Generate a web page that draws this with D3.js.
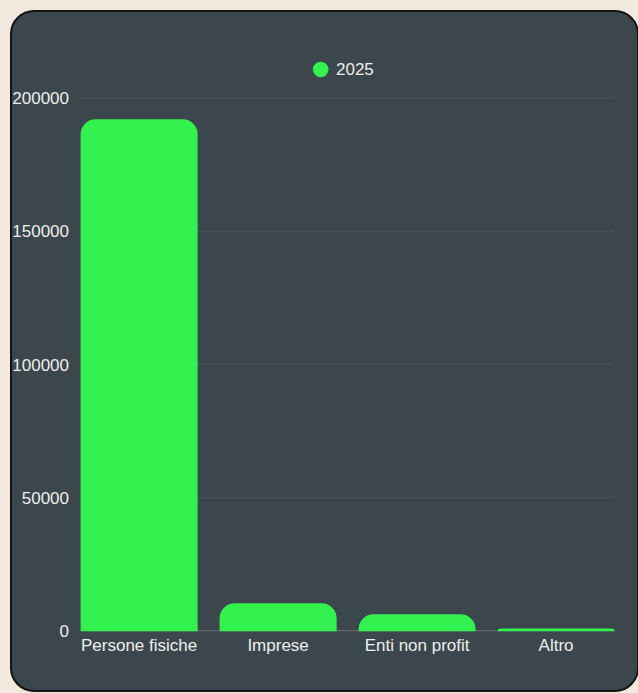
<!DOCTYPE html>
<html><head><meta charset="utf-8">
<script src="https://cdn.jsdelivr.net/npm/d3@7"></script>
<style>
html,body{margin:0;padding:0;background:#f3e9de;}
svg{display:block;}
</style></head>
<body>
<script>
const categories = ["Persone fisiche", "Imprese", "Enti non profit", "Altro"];
const values2025 = [191900, 10300, 6150, 800];
const yTicks = [0, 50000, 100000, 150000, 200000];
const seriesName = "2025";

const W = 638, H = 693;
const svg = d3.select("body").append("svg").attr("width", W).attr("height", H);

svg.append("rect").attr("x", 11).attr("y", 11).attr("width", 627).attr("height", 680)
  .attr("rx", 23).attr("fill", "#3b474c").attr("stroke", "#141414").attr("stroke-width", 2);

const plot = {left: 80.6, right: 614.6, top: 97.7, bottom: 630.7};
const x = d3.scaleBand().domain(categories).range([plot.left, plot.right]).paddingInner(0.158).paddingOuter(0);
const y = d3.scaleLinear().domain([0, 200000]).range([plot.bottom, plot.top]);

const font = "'Liberation Sans', Arial, Helvetica, sans-serif";
const green = "#33f24f";
const textCol = "#eeeeee";

// gridlines
svg.append("g").selectAll("line").data(yTicks.filter(d => d > 0)).join("line")
  .attr("x1", 79).attr("x2", plot.right)
  .attr("y1", d => y(d)).attr("y2", d => y(d))
  .attr("stroke", "#485458").attr("stroke-width", 1);

// baseline
svg.append("line").attr("x1", plot.left).attr("x2", plot.right)
  .attr("y1", y(0)).attr("y2", y(0)).attr("stroke", "#5d676b").attr("stroke-width", 1.2);

// y axis labels
const yAxis = d3.axisLeft(y).tickValues(yTicks).tickSize(0).tickPadding(0).tickFormat(d3.format("d"));
const ya = svg.append("g").attr("transform", "translate(69,0)").call(yAxis);
ya.select(".domain").remove();
ya.selectAll("text").attr("fill", textCol).attr("font-family", font).attr("font-size", 17).attr("dy", "0.35em");

// bars with rounded tops
function topRounded(x0, y0, w, h, r) {
  r = Math.min(r, h, w / 2);
  return `M${x0},${y0 + h}V${y0 + r}A${r},${r} 0 0 1 ${x0 + r},${y0}H${x0 + w - r}A${r},${r} 0 0 1 ${x0 + w},${y0 + r}V${y0 + h}Z`;
}
svg.append("g").selectAll("path").data(categories).join("path")
  .attr("d", (c, i) => {
    const x0 = x(c), w = x.bandwidth(), y0 = y(values2025[i]), h = y(0) - y0 + 0.6;
    return topRounded(x0, y0, w, h, 15);
  })
  .attr("fill", green);

// x axis labels
const xAxis = d3.axisBottom(x).tickSize(0).tickPadding(0);
const xa = svg.append("g").attr("transform", `translate(0,${y(0)})`).call(xAxis);
xa.select(".domain").remove();
xa.selectAll("text").attr("fill", textCol).attr("font-family", font).attr("font-size", 17)
  .attr("y", 20.5).attr("dy", 0);

// legend
const lg = svg.append("g");
lg.append("circle").attr("cx", 320.7).attr("cy", 69.5).attr("r", 7.8).attr("fill", green);
lg.append("text").attr("x", 336).attr("y", 69.5).attr("dy", "0.35em").attr("fill", textCol)
  .attr("font-family", font).attr("font-size", 17).text(seriesName);
</script>
</body></html>
